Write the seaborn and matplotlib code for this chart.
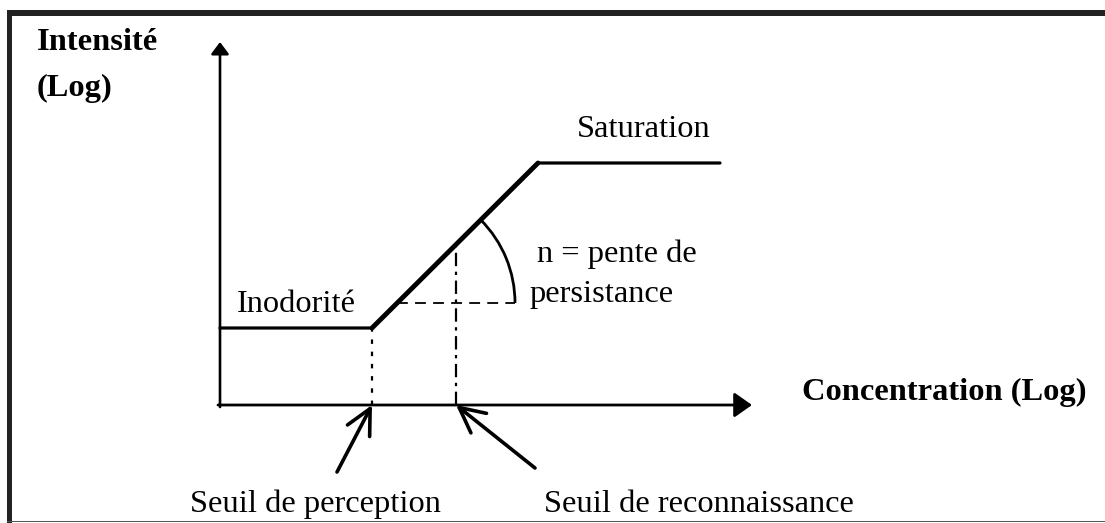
import numpy as np
import pandas as pd
import matplotlib
matplotlib.use("Agg")
import matplotlib.pyplot as plt
from matplotlib.patches import Arc, Rectangle
import seaborn as sns

# ---------------------------------------------------------------
# Data: schematic intensity vs concentration (both in log units)
# ---------------------------------------------------------------
concentration = [0.0, 3.8, 7.95, 12.5]      # break points of the curve
intensity = [1.925, 1.925, 6.05, 6.05]
seuil_perception = 3.8                      # threshold positions on x
seuil_reconnaissance = 5.9
pente_ref_y = 2.55                          # dashed reference level for slope
pente_ref_x_end = 7.375
x_axis_end = 13.3
y_axis_end = 9.075

labels_axes = ["Intensité", "(Log)", "Concentration (Log)"]
labels_zones = ["Saturation", "Inodorité", "n = pente de", "persistance"]
labels_seuils = ["Seuil de perception", "Seuil de reconnaissance"]

# ---------------------------------------------------------------
# Figure set up: 1 unit = 40 px, origin at the axis crossing
# ---------------------------------------------------------------
PX = 40.0
W, H = 1105, 523
sns.set_theme(style="white")
plt.rcParams["font.family"] = ["Liberation Serif", "DejaVu Serif"]
plt.rcParams["text.color"] = "black"

fig = plt.figure(figsize=(W / 100, H / 100), dpi=100)
ax = fig.add_axes([0, 0, 1, 1])
ax.set_xlim(-220 / PX, (W - 220) / PX)
ax.set_ylim(-(H - 405) / PX, 405 / PX)
ax.axis("off")

curve = pd.DataFrame({"conc": concentration, "intens": intensity})
slope = (intensity[2] - intensity[1]) / (concentration[2] - concentration[1])

# main curve
sns.lineplot(data=curve, x="conc", y="intens", sort=False, estimator=None,
             color="black", lw=2.3, ax=ax)
sns.lineplot(data=curve.iloc[1:3], x="conc", y="intens", sort=False,
             estimator=None, color="black", lw=3.5, ax=ax)

# axes with arrows
ax.annotate("", xy=(x_axis_end, 0), xytext=(-0.05, 0),
            arrowprops=dict(arrowstyle="-|>,head_length=0.54,head_width=0.38",
                            mutation_scale=20, lw=2.0, color="black",
                            shrinkA=0, shrinkB=0))
ax.annotate("", xy=(0, y_axis_end), xytext=(0, -0.05),
            arrowprops=dict(arrowstyle="-|>,head_length=0.36,head_width=0.27",
                            mutation_scale=20, lw=1.9, color="black",
                            shrinkA=0, shrinkB=0))

# threshold verticals
y_reco = intensity[1] + (seuil_reconnaissance - concentration[1]) * slope
ax.plot([seuil_perception, seuil_perception], [0, intensity[1]],
        color="black", lw=1.6, ls=(0, (2, 3.5)))
ax.plot([seuil_reconnaissance, seuil_reconnaissance], [0, y_reco],
        color="black", lw=1.6, ls=(0, (6, 2.5, 1.5, 2.5)))

# slope reference (dashed horizontal + arc)
x_start = concentration[1] + (pente_ref_y - intensity[1]) / slope
ax.plot([x_start, pente_ref_x_end], [pente_ref_y, pente_ref_y],
        color="black", lw=1.3, ls=(0, (6, 4)))
r = pente_ref_x_end - x_start
ax.add_patch(Arc((x_start, pente_ref_y), 2 * r, 2 * r, theta1=0,
                 theta2=np.degrees(np.arctan(slope)), color="black", lw=2.0))

# threshold arrows
arrow_kw = dict(arrowstyle="->,head_length=0.9,head_width=0.45",
                mutation_scale=20, lw=2.6, color="black", shrinkA=0, shrinkB=0)
ax.annotate("", xy=(seuil_perception, 0), xytext=(2.925, -1.675),
            arrowprops=arrow_kw)
ax.annotate("", xy=(seuil_reconnaissance, 0), xytext=(7.875, -1.575),
            arrowprops=arrow_kw)

# texts
FS = 23.4
txt = dict(fontsize=FS, va="baseline", color="black")
ax.text(-4.575, 8.875, labels_axes[0], fontweight="bold", **txt)
ax.text(-4.575, 7.725, labels_axes[1], fontweight="bold", **txt)
ax.text(14.55, 0.125, labels_axes[2], fontweight="bold", **txt)
ax.text(8.925, 6.7, labels_zones[0], **txt)
ax.text(0.425, 2.325, labels_zones[1], **txt)
ax.text(7.925, 3.575, labels_zones[2], **txt)
ax.text(7.75, 2.575, labels_zones[3], **txt)
ax.text(-0.75, -2.675, labels_seuils[0], **txt)
ax.text(8.1, -2.675, labels_seuils[1], **txt)

# frame around the picture
fig.add_artist(Rectangle((7 / W, (H - 16) / H), 1 - 7 / W, 6 / H,
                         color="#222222", lw=0, transform=fig.transFigure))
fig.add_artist(Rectangle((7 / W, 0), 5 / W, (H - 10) / H,
                         color="#222222", lw=0, transform=fig.transFigure))
fig.add_artist(Rectangle((7 / W, 1 / H), 1 - 7 / W, 1.5 / H,
                         color="#555555", lw=0, transform=fig.transFigure))

fig.savefig("out.png", dpi=100)
